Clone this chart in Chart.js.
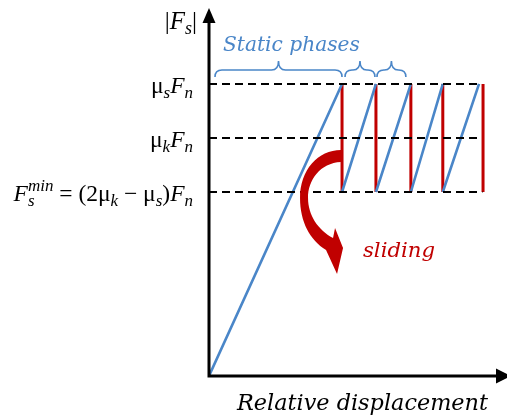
<!DOCTYPE html>
<html>
<head>
<meta charset="utf-8">
<script src="https://cdn.jsdelivr.net/npm/chart.js@4"></script>
<style>
  html, body { margin: 0; padding: 0; background: #fff; }
  canvas { display: block; }
</style>
</head>
<body>
<canvas id="stickSlip" width="507" height="417"></canvas>
<script>
// friction levels (mu_s*Fn, mu_k*Fn, Fs_min), normalised to mu_s*Fn = 1
const levelValues = [1.0, 0.815, 0.63];
const levelLabels = ['μ_{s}F_{n}', 'μ_{k}F_{n}', 'F_{s}^{min} = (2μ_{k} − μ_{s})F_{n}'];
const levelDashEnd = [8.2, 8.12, 8.22];

// sticking ramps (blue) : start and top of each ramp
const rampStartX = [0, 4.0, 5.02, 6.07, 7.03];
const rampStartY = [0, 0.63, 0.63, 0.63, 0.63];
const rampTopX = [4.0, 5.02, 6.07, 7.03, 8.12];

// slip drops (red)
const slipX = [4.0, 5.02, 6.07, 7.03, 8.24];

// static phase braces
const braceFrom = [0.18, 4.09, 5.05];
const braceTo = [4.0, 4.99, 5.92];

const xTitle = 'Relative displacement';
const yTitle = '|F_{s}|';
const phaseText = 'Static phases';
const slideText = 'sliding';

const blue = '#4a86c8';
const red = '#c00000';
const mathFont = '"Liberation Serif", serif';
const textFont = '"DejaVu Serif", serif';

function segments(xs0, ys0, xs1, ys1) {
  const pts = [];
  for (let i = 0; i < xs0.length; i++) {
    pts.push({ x: xs0[i], y: ys0[i] }, { x: xs1[i], y: ys1[i] }, { x: xs1[i], y: null });
  }
  return pts;
}

const rampData = segments(rampStartX, rampStartY, rampTopX, rampTopX.map(() => levelValues[0]));
const slipData = segments(slipX, slipX.map(() => levelValues[0]), slipX, slipX.map(() => levelValues[2]));

const dashSets = levelValues.map((v, i) => ({
  data: [{ x: 0, y: v }, { x: levelDashEnd[i], y: v }],
  borderColor: '#000',
  borderWidth: 2,
  borderDash: [8, 5],
  pointRadius: 0
}));

// math label with _{sub} and ^{sup}
function drawRich(ctx, markup, rightX, midY, size) {
  const tokens = markup.match(/_\{[^}]*\}|\^\{[^}]*\}|[^_^]+/g);
  const small = Math.round(size * 0.72);
  const pieces = [];
  let x = 0, subStart = null, subW = 0;
  tokens.forEach(tok => {
    if (tok[0] === '_') {
      const t = tok.slice(2, -1);
      ctx.font = 'italic ' + small + 'px ' + mathFont;
      const w = ctx.measureText(t).width;
      pieces.push({ t, font: ctx.font, x, dy: size * 0.28 });
      subStart = x; subW = w; x += w;
    } else if (tok[0] === '^') {
      const t = tok.slice(2, -1);
      ctx.font = 'italic ' + small + 'px ' + mathFont;
      const w = ctx.measureText(t).width;
      const px = subStart !== null ? subStart : x;
      pieces.push({ t, font: ctx.font, x: px, dy: -size * 0.34 });
      x = subStart !== null ? px + Math.max(subW, w) : x + w;
      subStart = null;
    } else {
      for (const ch of tok) {
        ctx.font = (/[A-Za-z]/.test(ch) ? 'italic ' : '') + size + 'px ' + mathFont;
        pieces.push({ t: ch, font: ctx.font, x, dy: 0 });
        x += ctx.measureText(ch).width;
      }
      subStart = null;
    }
  });
  ctx.textBaseline = 'middle';
  ctx.textAlign = 'left';
  pieces.forEach(p => {
    ctx.font = p.font;
    ctx.fillText(p.t, rightX - x + p.x, midY + p.dy);
  });
}

function fitText(ctx, text, left, right, y, color, style) {
  let size = 30;
  ctx.font = style + ' ' + size + 'px ' + textFont;
  size = size * (right - left) / ctx.measureText(text).width;
  ctx.font = style + ' ' + size.toFixed(2) + 'px ' + textFont;
  ctx.fillStyle = color;
  ctx.textAlign = 'left';
  ctx.textBaseline = 'middle';
  ctx.fillText(text, left, y);
}

function brace(ctx, x1, x2, y) {
  const h = 7, mid = (x1 + x2) / 2;
  const r = Math.min(h, (x2 - x1) / 4);
  ctx.beginPath();
  ctx.moveTo(x1, y + h);
  ctx.quadraticCurveTo(x1, y, x1 + r, y);
  ctx.lineTo(mid - r, y);
  ctx.quadraticCurveTo(mid, y, mid, y - h - 2);
  ctx.quadraticCurveTo(mid, y, mid + r, y);
  ctx.lineTo(x2 - r, y);
  ctx.quadraticCurveTo(x2, y, x2, y + h);
  ctx.stroke();
}

const decor = {
  id: 'decor',
  afterDatasetsDraw(chart) {
    const ctx = chart.ctx;
    const xs = chart.scales.x, ys = chart.scales.y;
    const ox = xs.getPixelForValue(0), oy = ys.getPixelForValue(0);
    ctx.save();

    // axes with arrows
    ctx.strokeStyle = '#000';
    ctx.fillStyle = '#000';
    ctx.lineWidth = 3;
    ctx.beginPath();
    ctx.moveTo(ox, oy + 1.5);
    ctx.lineTo(ox, 20);
    ctx.moveTo(ox - 1.5, oy);
    ctx.lineTo(498, oy);
    ctx.stroke();
    ctx.beginPath();
    ctx.moveTo(ox, 8);
    ctx.lineTo(ox + 6.5, 23);
    ctx.lineTo(ox - 6.5, 23);
    ctx.closePath();
    ctx.fill();
    ctx.beginPath();
    ctx.moveTo(511, oy);
    ctx.lineTo(496, oy - 7.5);
    ctx.lineTo(496, oy + 7.5);
    ctx.closePath();
    ctx.fill();

    // level labels
    ctx.fillStyle = '#000';
    levelLabels.forEach((lab, i) => {
      drawRich(ctx, lab, 193, ys.getPixelForValue(levelValues[i]) + 3, 23.5);
    });
    drawRich(ctx, yTitle, 197, 22, 25);

    // braces and text
    ctx.strokeStyle = blue;
    ctx.lineWidth = 1.6;
    braceFrom.forEach((b, i) => brace(ctx, xs.getPixelForValue(b), xs.getPixelForValue(braceTo[i]), 70));
    fitText(ctx, phaseText, 223, 360, 46, blue, 'italic');
    fitText(ctx, slideText, 363, 435, 251, red, 'italic');
    fitText(ctx, xTitle, 237, 488, 404, '#000', 'italic');

    // curved sliding arrow, anchored on first slip line
    const ax = xs.getPixelForValue(slipX[0]);
    const ay = ys.getPixelForValue(levelValues[1]);
    ctx.fillStyle = red;
    ctx.beginPath();
    ctx.moveTo(ax - 1, ay + 12);
    ctx.bezierCurveTo(ax - 24, ay + 12, ax - 42, ay + 32, ax - 42, ay + 60);
    ctx.bezierCurveTo(ax - 42, ay + 84, ax - 32, ay + 102, ax - 16, ay + 112);
    ctx.lineTo(ax - 5, ay + 136);
    ctx.lineTo(ax + 1, ay + 110);
    ctx.lineTo(ax - 7, ay + 90);
    ctx.lineTo(ax - 9, ay + 100);
    ctx.bezierCurveTo(ax - 24, ay + 92, ax - 34, ay + 77, ax - 34, ay + 60);
    ctx.bezierCurveTo(ax - 34, ay + 42, ax - 22, ay + 25, ax - 1, ay + 24);
    ctx.closePath();
    ctx.fill();

    ctx.restore();
  }
};

new Chart(document.getElementById('stickSlip'), {
  type: 'line',
  data: {
    datasets: [
      ...dashSets,
      { data: rampData, borderColor: blue, borderWidth: 2.6, pointRadius: 0 },
      { data: slipData, borderColor: red, borderWidth: 3, pointRadius: 0 }
    ]
  },
  options: {
    responsive: false,
    animation: false,
    devicePixelRatio: 1,
    layout: { padding: { left: 209, right: 7, top: 8, bottom: 41 } },
    plugins: { legend: { display: false }, tooltip: { enabled: false } },
    scales: {
      x: { type: 'linear', min: 0, max: 8.75, display: false },
      y: { min: 0, max: 1.26, display: false }
    }
  },
  plugins: [decor]
});
</script>
</body>
</html>
